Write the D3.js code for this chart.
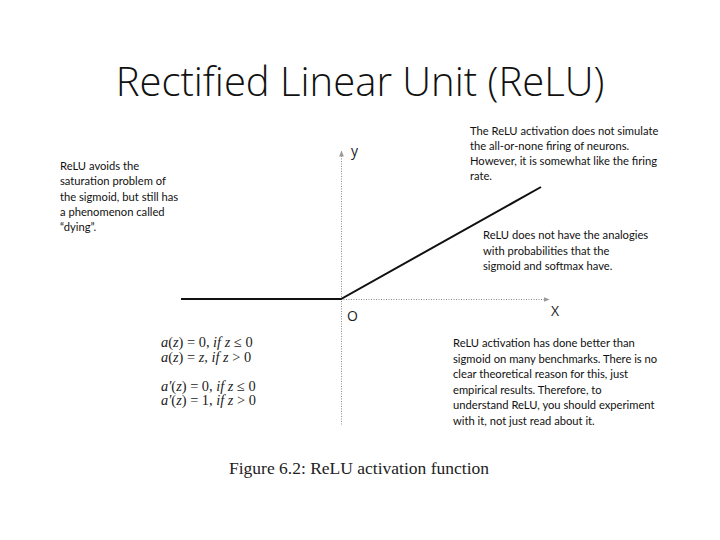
<!DOCTYPE html>
<html>
<head>
<meta charset="utf-8">
<script src="https://cdn.jsdelivr.net/npm/d3@7"></script>
<style>
  body { margin: 0; background: #fff; }
  .note { font-family: Lato, "Open Sans", sans-serif; font-size: 11.2px; fill: #111; }
  .eq { font-family: "Liberation Serif", serif; font-size: 14.4px; fill: #222; }
</style>
</head>
<body>
<svg id="chart" width="720" height="540"></svg>
<script>
// ReLU sample points
var reluX = [-4, 0, 5];
var reluY = [0, 0, 5];

var titleText = "Rectified Linear Unit (ReLU)";
var captionText = "Figure 6.2:  ReLU activation function";

var leftNote = ["ReLU avoids the", "saturation problem of", "the sigmoid, but still has",
                "a phenomenon called", "\u201cdying\u201d."];
var topNote = ["The ReLU activation does not simulate", "the all-or-none firing of neurons.",
               "However, it is somewhat like the firing", "rate."];
var midNote = ["ReLU does not have the analogies", "with probabilities that the",
               "sigmoid and softmax have."];
var lowNote = ["ReLU activation has done better than", "sigmoid on many benchmarks. There is no",
               "clear theoretical reason for this, just", "empirical results. Therefore, to",
               "understand ReLU, you should experiment", "with it, not just read about it."];
var equations = [["a", "(", "z", ") = 0, ", "if z", " \u2264 0"],
                 ["a", "(", "z", ") = ", "z, if z", " > 0"],
                 [],
                 ["a\u2032", "(", "z", ") = 0, ", "if z", " \u2264 0"],
                 ["a\u2032", "(", "z", ") = 1, ", "if z", " > 0"]];

var svg = d3.select("#chart");

var x = d3.scaleLinear().domain([-4, 5]).range([181, 541]);
var y = d3.scaleLinear().domain([0, 5]).range([299, 187]);

svg.append("text")
  .attr("x", 360).attr("y", 96)
  .attr("text-anchor", "middle")
  .style("font-family", "'Open Sans', sans-serif")
  .style("font-weight", 300)
  .style("font-size", "40px")
  .style("fill", "#111")
  .text(titleText);

// arrow marker
svg.append("defs").append("marker")
  .attr("id", "arr")
  .attr("viewBox", "0 0 10 10")
  .attr("refX", 9).attr("refY", 5)
  .attr("markerWidth", 6).attr("markerHeight", 6)
  .attr("orient", "auto")
  .append("path").attr("d", "M0,1L10,5L0,9z").attr("fill", "#999");

// axes (dotted)
svg.append("line")
  .attr("x1", x(0)).attr("y1", y(0) + 0.5)
  .attr("x2", x(5.2)).attr("y2", y(0) + 0.5)
  .attr("stroke", "#8a8a8a").attr("stroke-width", 1)
  .attr("stroke-dasharray", "1,1.5")
  .attr("marker-end", "url(#arr)");

svg.append("line")
  .attr("x1", x(0) + 0.5).attr("y1", y(-5.6))
  .attr("x2", x(0) + 0.5).attr("y2", y(6.6))
  .attr("stroke", "#8a8a8a").attr("stroke-width", 1)
  .attr("stroke-dasharray", "1,1.5")
  .attr("marker-end", "url(#arr)");

var line = d3.line()
  .x(function(d, i) { return x(reluX[i]); })
  .y(function(d, i) { return y(reluY[i]); });

svg.append("path")
  .datum(reluX)
  .attr("d", line)
  .attr("fill", "none")
  .attr("stroke", "#111")
  .attr("stroke-width", 2);

var axisLbl = { family: "'Open Sans', sans-serif", size: "14px" };
[["y", x(0) + 10, y(6.6) + 5], ["X", x(5.3) - 2, y(0) + 17], ["O", x(0) + 6, y(0) + 22]].forEach(function(l) {
  svg.append("text").attr("x", l[1]).attr("y", l[2])
    .style("font-family", axisLbl.family).style("font-size", axisLbl.size)
    .style("fill", "#222").text(l[0]);
});

function block(lines, x0, y0, dy) {
  var t = svg.append("text").attr("class", "note");
  lines.forEach(function(s, i) {
    t.append("tspan").attr("x", x0).attr("y", y0 + i * dy).text(s);
  });
}
block(leftNote, 60, 170, 15.3);
block(topNote, 470, 135, 15.1);
block(midNote, 483, 239, 15.5);
block(lowNote, 453, 347, 15.5);

// equations
equations.forEach(function(parts, i) {
  if (!parts.length) return;
  var t = svg.append("text").attr("class", "eq")
    .attr("x", 161).attr("y", 347 + i * 14.6);
  parts.forEach(function(p, j) {
    t.append("tspan")
      .style("font-style", (j === 0 || j === 2 || j === 4) ? "italic" : "normal")
      .text(p);
  });
});

svg.append("text")
  .attr("x", 359).attr("y", 474)
  .attr("text-anchor", "middle")
  .style("font-family", "'Liberation Serif', serif")
  .style("font-size", "17.5px")
  .style("fill", "#222")
  .text(captionText);
</script>
</body>
</html>
